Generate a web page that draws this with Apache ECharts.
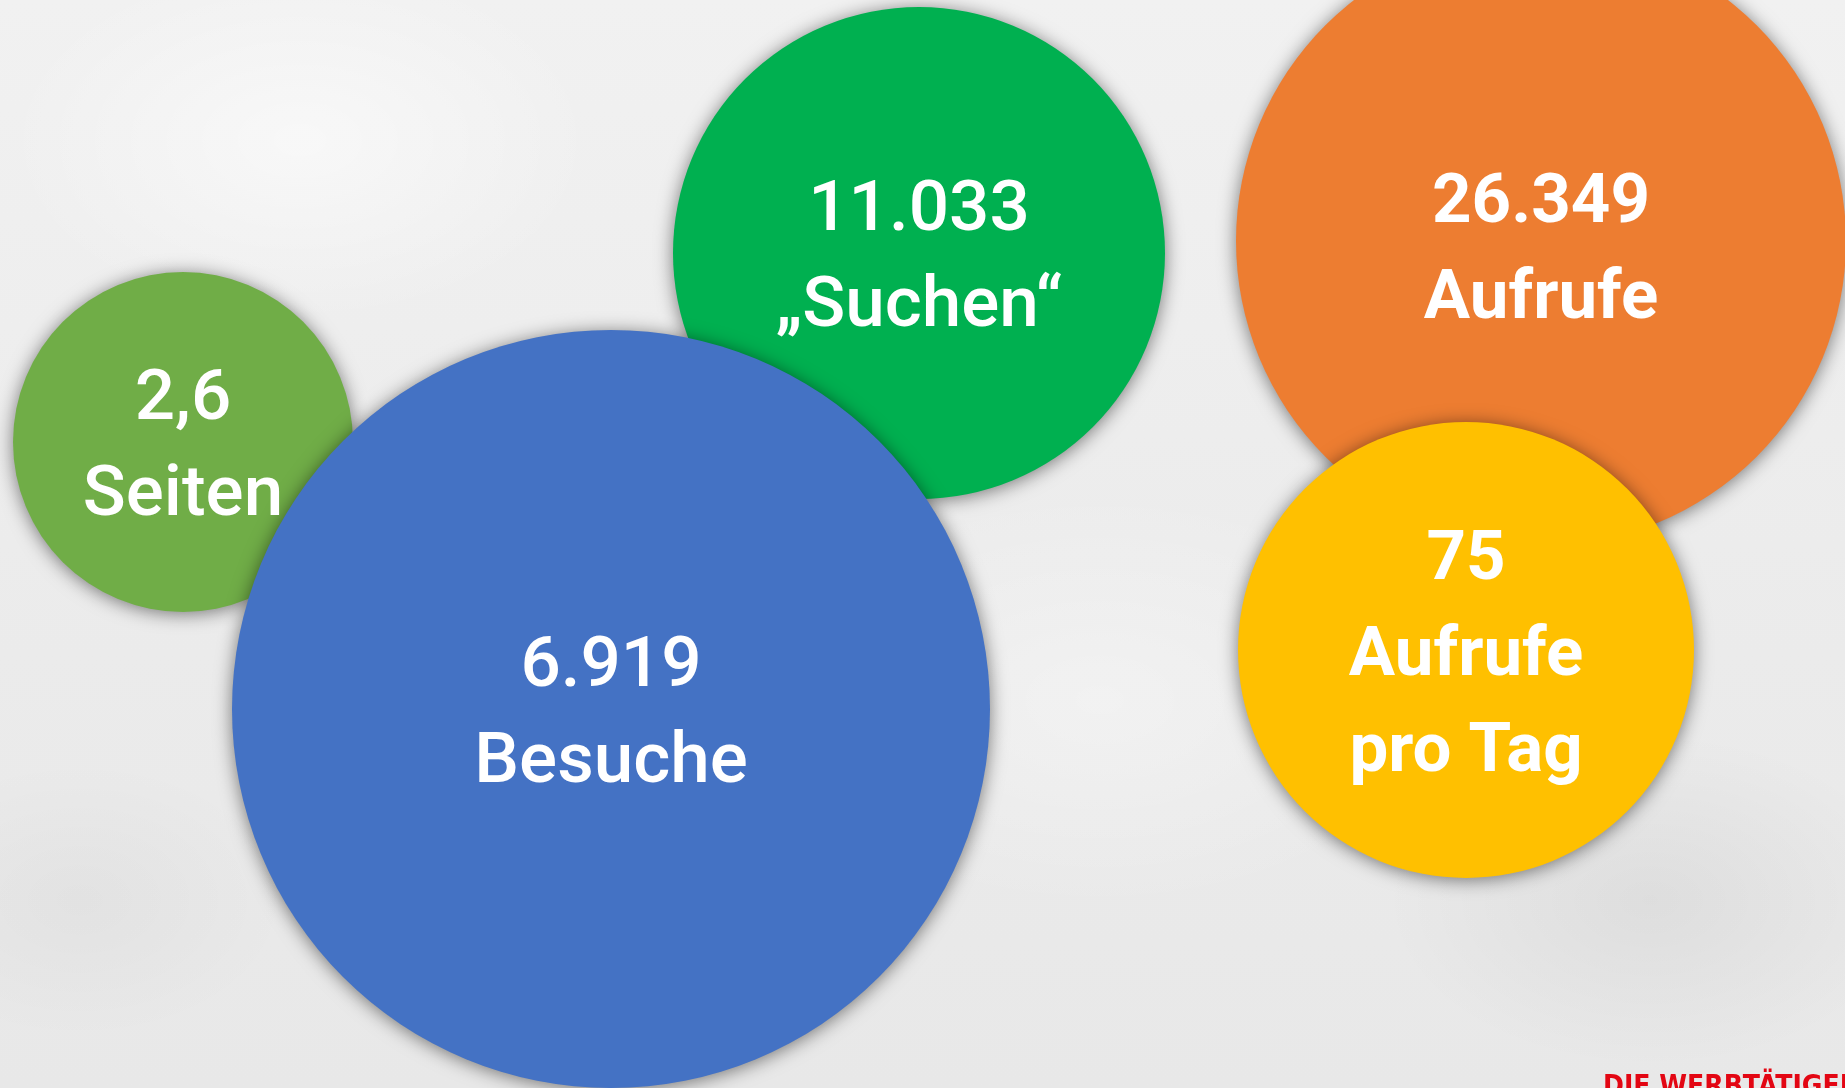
<!DOCTYPE html>
<html>
<head>
<meta charset="utf-8">
<script src="https://cdn.jsdelivr.net/npm/echarts@6/dist/echarts.min.js"></script>
<style>
html,body{margin:0;padding:0;width:1845px;height:1088px;overflow:hidden;}
body{
  background-color:#ededed;
  background-image:
    radial-gradient(ellipse 420px 260px at 300px 140px, rgba(255,255,255,0.55), rgba(255,255,255,0) 70%),
    radial-gradient(ellipse 500px 300px at 1100px 700px, rgba(255,255,255,0.35), rgba(255,255,255,0) 70%),
    radial-gradient(ellipse 380px 240px at 1650px 900px, rgba(0,0,0,0.05), rgba(0,0,0,0) 70%),
    radial-gradient(ellipse 300px 200px at 80px 900px, rgba(0,0,0,0.03), rgba(0,0,0,0) 70%),
    linear-gradient(180deg, #f1f1f1 0%, #ebebeb 60%, #e8e8e8 100%);
}
#chart{width:1845px;height:1088px;}
</style>
</head>
<body>
<div id="chart"></div>
<script>
// Values shown in the bubbles
var values = [2.6, 11033, 6919, 26349, 75];
var captions = ['Seiten', '\u201ESuchen\u201C', 'Besuche', 'Aufrufe', 'Aufrufe\npro Tag'];
var colors = ['#70AD47', '#00B050', '#4472C4', '#ED7D31', '#FFC000'];

// Layout (bubble centres in axis units, diameters in px)
var posX = [183, 919, 611, 1541, 1466];
var posY = [442, 253, 709, 241, 650];
var diameters = [340, 492, 758, 610, 456];

function fmtDE(v) {
  if (Math.round(v) !== v) {
    return String(v).replace('.', ',');
  }
  return String(v).replace(/\B(?=(\d{3})+(?!\d))/g, '.');
}

var data = values.map(function (v, i) {
  var bold = (i >= 3);
  return {
    value: [posX[i], posY[i], v],
    name: captions[i],
    symbolSize: diameters[i],
    itemStyle: { color: colors[i] },
    label: {
      fontWeight: bold ? 'bold' : 500,
      fontSize: bold ? 69 : 71,
      offset: [0, bold ? (i === 3 ? 12 : 8) : 7]
    }
  };
});

var chart = echarts.init(document.getElementById('chart'), null, { renderer: 'canvas' });
chart.setOption({
  backgroundColor: 'transparent',
  animation: false,
  grid: { left: 0, right: 0, top: 0, bottom: 0 },
  xAxis: { type: 'value', min: 0, max: 1845, show: false },
  yAxis: { type: 'value', min: 0, max: 1088, inverse: true, show: false },
  series: [{
    type: 'scatter',
    symbol: 'circle',
    data: data,
    itemStyle: {
      opacity: 1,
      shadowBlur: 18,
      shadowColor: 'rgba(0,0,0,0.5)',
      shadowOffsetX: 0,
      shadowOffsetY: 2
    },
    label: {
      show: true,
      position: 'inside',
      color: '#ffffff',
      fontFamily: 'Roboto',
      lineHeight: 96,
      align: 'center',
      formatter: function (p) {
        return fmtDE(p.value[2]) + '\n' + p.name;
      }
    },
    emphasis: { disabled: true }
  }],
  graphic: [{
    type: 'text',
    left: 1603,
    top: 1074,
    silent: true,
    style: {
      text: 'DIE WERBT\u00C4TIGEN',
      fill: '#E30613',
      font: 'bold 28px "DejaVu Sans Condensed"'
    }
  }]
});
</script>
</body>
</html>
